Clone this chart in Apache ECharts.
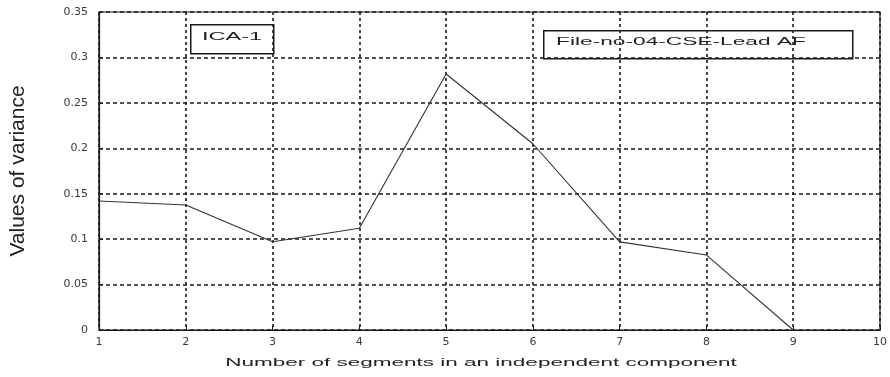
<!DOCTYPE html>
<html>
<head>
<meta charset="utf-8">
<script src="https://cdn.jsdelivr.net/npm/echarts@6/dist/echarts.min.js"></script>
<style>html,body{margin:0;padding:0;background:#fff}#c{width:890px;height:377px}</style>
</head>
<body>
<div id="c"></div>
<script>
// Data
var segments = [1, 2, 3, 4, 5, 6, 7, 8, 9];
var variance = [0.142, 0.1376, 0.0972, 0.112, 0.2818, 0.205, 0.097, 0.0825, 0.0];
var xTicks = [1, 2, 3, 4, 5, 6, 7, 8, 9, 10];
var yTicks = [0, 0.05, 0.1, 0.15, 0.2, 0.25, 0.3, 0.35];
var xTitle = 'Number of segments in an independent component';
var yTitle = 'Values of variance';
var note1 = 'ICA-1';
var note2 = 'File-no-04-CSE-Lead AF';

var chart = echarts.init(document.getElementById('c'), null, {renderer: 'canvas'});
var ink = '#1a1a1a';
var font = 'Liberation Sans, Arial, sans-serif';
var tickFont = 'DejaVu Sans, Liberation Sans, sans-serif';

var option = {
  animation: false,
  backgroundColor: '#fff',
  grid: {left: 98, right: 8, top: 12, bottom: 47, show: true, borderColor: ink, borderWidth: 1.2},
  xAxis: {
    type: 'value', min: 1, max: 10, interval: 1,
    axisLine: {show: true, lineStyle: {color: ink, width: 1.2}},
    axisTick: {show: true, inside: true, length: 4, lineStyle: {color: ink}},
    axisLabel: {color: '#3a3a3a', fontFamily: tickFont, fontSize: 11, margin: 7,
      formatter: function (v) { return xTicks.indexOf(v) >= 0 ? String(v) : ''; }},
    splitLine: {show: true, lineStyle: {color: ink, type: [3, 3], width: 1.6}}
  },
  yAxis: {
    type: 'value', min: 0, max: 0.35, interval: 0.05,
    name: yTitle, nameLocation: 'middle', nameGap: 70,
    nameTextStyle: {color: '#222', fontFamily: font, fontSize: 21},
    axisLine: {show: true, lineStyle: {color: ink, width: 1.2}},
    axisTick: {show: true, inside: true, length: 4, lineStyle: {color: ink}},
    axisLabel: {color: '#3a3a3a', fontFamily: tickFont, fontSize: 11, margin: 11,
      formatter: function (v) {
        for (var i = 0; i < yTicks.length; i++) if (Math.abs(yTicks[i] - v) < 1e-9) return String(yTicks[i]);
        return '';
      }},
    splitLine: {show: true, lineStyle: {color: ink, type: [4, 3], width: 1.6}}
  },
  series: [{
    type: 'line',
    data: segments.map(function (s, i) { return [s, variance[i]]; }),
    showSymbol: false, symbol: 'none',
    lineStyle: {color: '#333', width: 1.1},
    z: 5
  }],
  graphic: [
    {type: 'rect', left: 190, top: 24, shape: {width: 83, height: 29},
     style: {fill: 'rgba(0,0,0,0)', stroke: ink, lineWidth: 1.5}, z: 10},
    {type: 'text', x: 232, y: 37, scaleX: 2.35,
     style: {text: note1, fill: '#222', font: '10px ' + font, textAlign: 'center', textVerticalAlign: 'middle'}, z: 10},
    {type: 'rect', left: 543, top: 30, shape: {width: 309, height: 28},
     style: {fill: 'rgba(0,0,0,0)', stroke: ink, lineWidth: 1.5}, z: 10},
    {type: 'text', x: 681, y: 42.5, scaleX: 2.27,
     style: {text: note2, fill: '#222', font: '10px ' + font, textAlign: 'center', textVerticalAlign: 'middle'}, z: 10},
    {type: 'text', x: 481, y: 363, scaleX: 2.25,
     style: {text: xTitle, fill: '#222', font: '10px ' + font, textAlign: 'center', textVerticalAlign: 'middle'}, z: 10}
  ]
};
chart.setOption(option);
</script>
</body>
</html>
